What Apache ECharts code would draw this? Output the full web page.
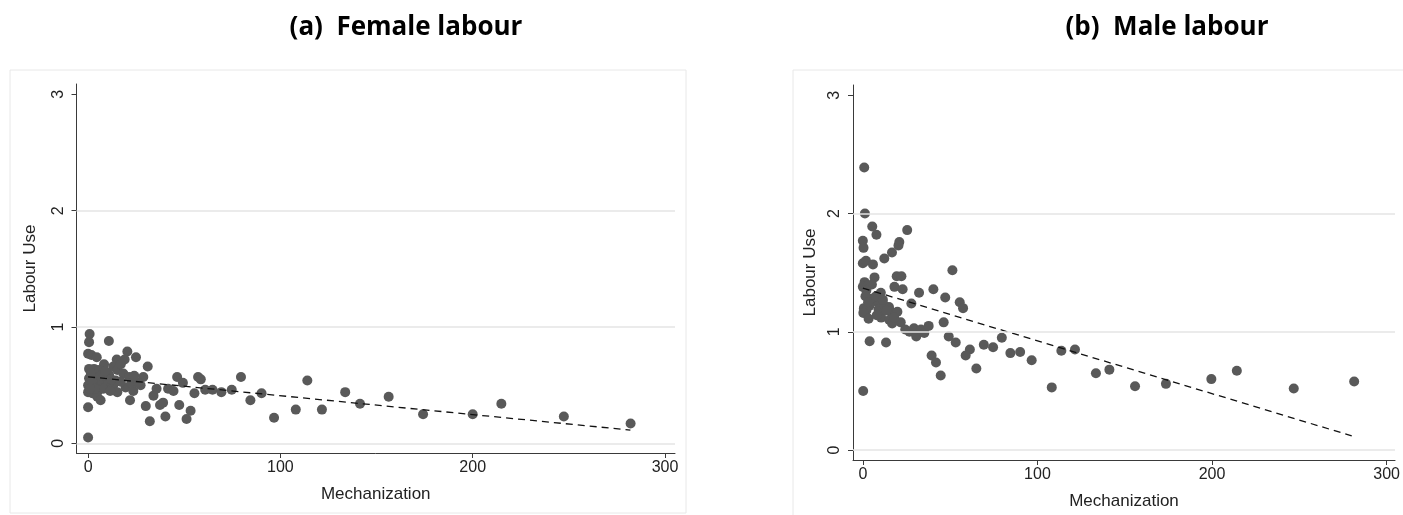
<!DOCTYPE html>
<html><head><meta charset="utf-8">
<script src="https://cdn.jsdelivr.net/npm/echarts@6/dist/echarts.min.js"></script>
<style>html,body{margin:0;padding:0;background:#fff}#c{width:1403px;height:515px}</style>
</head><body><div id="c"></div>
<script>
const panelTitles = ['(a)  Female labour', '(b)  Male labour'];
const xAxisName = 'Mechanization';
const yAxisName = 'Labour Use';
const xTicks = [0, 100, 200, 300];
const yTicks = [0, 1, 2, 3];
const yGridValues = [0, 1, 2];

const femalePoints = [
  [0.8,0.94],[0.5,0.87],[10.8,0.88],[0,0.77],[1.7,0.76],[4.5,0.74],[20.4,0.79],[14.9,0.72],[19,0.72],[24.9,0.74],
  [31,0.66],[8.3,0.68],[0.5,0.64],[3.1,0.64],[5.7,0.63],[13.1,0.66],[15.2,0.63],[0.5,0.56],[3.1,0.57],[10.9,0.59],
  [18.3,0.6],[21.3,0.57],[28.7,0.57],[0,0.5],[2.2,0.49],[4.8,0.52],[7.4,0.53],[10,0.5],[13.1,0.5],[14.3,0.54],
  [19.5,0.48],[27.3,0.5],[0,0.44],[2.2,0.43],[5.7,0.46],[4.8,0.4],[6.5,0.37],[15.2,0.44],[23.5,0.45],[21.8,0.37],
  [0,0.31],[0,0.05],[30,0.32],[32.1,0.19],[1.5,0.6],[6.5,0.58],[9,0.62],[12,0.55],[17,0.53],[2,0.53],
  [8,0.47],[11.5,0.45],[3.5,0.47],[1,0.47],[17,0.68],[22.5,0.52],[26,0.52],[24,0.58],
  [34,0.41],[35.6,0.47],[37.4,0.33],[39,0.35],[40.2,0.23],[41.6,0.47],[44.4,0.45],[46.3,0.57],[47.4,0.33],[49.3,0.52],
  [51.2,0.21],[53.3,0.28],[55.3,0.43],[57.2,0.57],[58.6,0.55],[60.9,0.46],[64.7,0.46],[69.3,0.44],[74.7,0.46],[79.5,0.57],
  [84.4,0.37],[90.2,0.43],[96.7,0.22],[108,0.29],[114,0.54],[121.6,0.29],[133.7,0.44],[141.4,0.34],[156.3,0.4],[174.2,0.25],
  [200,0.25],[214.9,0.34],[247.4,0.23],[282.1,0.17]
];

const malePoints = [
  [0.8,2.39],[1.2,2.0],[5.4,1.89],[7.8,1.82],[25.4,1.86],[0,1.77],[0.4,1.71],[20.9,1.76],[20.4,1.73],[16.7,1.67],
  [12.3,1.62],[0,1.58],[1.8,1.6],[5.8,1.57],[51.3,1.52],[6.7,1.46],[19.4,1.47],[22.1,1.47],[18.1,1.38],[22.8,1.36],
  [1,1.42],[0,1.38],[2.9,1.39],[5.2,1.4],[2,1.35],[10.3,1.33],[32.2,1.33],[40.4,1.36],[47.2,1.29],[55.5,1.25],
  [57.4,1.2],[46.3,1.08],[27.8,1.24],[4.8,1.28],[6.7,1.26],[9.5,1.24],[3.8,1.22],[0.6,1.2],[2,1.18],[0.3,1.16],
  [9,1.19],[12.4,1.22],[15,1.21],[16.2,1.17],[19.8,1.17],[3.3,1.11],[10.5,1.12],[15.2,1.1],[16.8,1.07],[21.7,1.08],
  [24.3,1.02],[26.7,1.0],[29.3,1.03],[30.6,0.96],[33.3,1.02],[35.2,0.99],[37.7,1.05],[3.9,0.92],[13.3,0.91],[49.2,0.96],
  [53.2,0.91],[61.3,0.85],[58.9,0.8],[39.4,0.8],[41.9,0.74],[44.6,0.63],[65,0.69],[69.3,0.89],[74.6,0.87],[79.6,0.95],
  [84.5,0.82],[90.1,0.83],[96.7,0.76],[108.2,0.53],[113.7,0.84],[121.5,0.85],[133.5,0.65],[141.2,0.68],[155.9,0.54],[173.6,0.56],
  [199.6,0.6],[214.2,0.67],[246.8,0.52],[281.4,0.58],[0.2,0.5],
  [1.5,1.3],[3,1.25],[7.5,1.3],[11.5,1.27],[13.5,1.18],[8,1.14],[18,1.12]
];

const femaleFit = [[0, 0.572], [282, 0.114]];
const maleFit = [[0, 1.37], [280, 0.12]];

const FONT = '"Liberation Sans", Arial, sans-serif';
const TXT = '#222';
const AXC = '#3a3a3a';
const DOT = '#595959';

function xAx(gi, min, max) {
  return {
    type: 'value', gridIndex: gi, min: min, max: max,
    name: xAxisName, nameLocation: 'middle', nameGap: 33,
    nameTextStyle: { fontFamily: FONT, fontSize: 17, color: TXT },
    axisLine: { show: true, onZero: false, lineStyle: { color: AXC, width: 1 } },
    axisTick: { show: true, customValues: xTicks, length: 5, lineStyle: { color: AXC } },
    axisLabel: { customValues: xTicks, fontFamily: FONT, fontSize: 16, color: TXT, margin: 7 },
    splitLine: { show: false }
  };
}
function yAx(gi, min, max, gap) {
  return {
    type: 'value', gridIndex: gi, min: min, max: max,
    name: yAxisName, nameLocation: 'middle', nameGap: gap,
    nameTextStyle: { fontFamily: FONT, fontSize: 17, color: TXT },
    axisLine: { show: true, onZero: false, lineStyle: { color: AXC, width: 1 } },
    axisTick: { show: true, customValues: yTicks, length: 5, lineStyle: { color: AXC } },
    axisLabel: { customValues: yTicks, rotate: 90, fontFamily: FONT, fontSize: 16, color: TXT, margin: 10 },
    splitLine: { show: false }
  };
}
function gridLines(i) {
  return {
    type: 'line', xAxisIndex: i, yAxisIndex: i, data: [], silent: true, z: 1,
    markLine: {
      silent: true, symbol: ['none', 'none'], animation: false,
      label: { show: false },
      lineStyle: { color: '#e4e4e4', width: 1.5, type: 'solid' },
      data: yGridValues.map(v => ({ yAxis: v }))
    }
  };
}
function dots(i, pts) {
  return { type: 'scatter', xAxisIndex: i, yAxisIndex: i, data: pts, symbol: 'circle', symbolSize: 10,
    itemStyle: { color: DOT, opacity: 1 }, z: 2 };
}
function fit(i, pts) {
  return { type: 'line', xAxisIndex: i, yAxisIndex: i, data: pts, showSymbol: false, symbol: 'none',
    lineStyle: { color: '#111', width: 1.3, type: [7, 5] }, z: 3 };
}

const chart = echarts.init(document.getElementById('c'), null, { renderer: 'canvas' });
chart.setOption({
  animation: false,
  backgroundColor: '#fff',
  grid: [
    { left: 76.5, top: 84, width: 598.5, height: 369 },
    { left: 853, top: 85, width: 546, height: 377 }
  ],
  xAxis: [xAx(0, -6.03, 305.2), xAx(1, -5.63, 304.8)],
  yAxis: [yAx(0, -0.083, 3.089, 38), yAx(1, -0.084, 3.087, 34)],
  series: [
    gridLines(0), dots(0, femalePoints), fit(0, femaleFit),
    gridLines(1), dots(1, malePoints), fit(1, maleFit)
  ],
  graphic: [
    { type: 'rect', silent: true, z: -1, shape: { x: 10, y: 70, width: 676, height: 443 },
      style: { fill: 'none', stroke: '#e8e8e8', lineWidth: 1 } },
    { type: 'rect', silent: true, z: -1, shape: { x: 793, y: 70, width: 620, height: 470 },
      style: { fill: 'none', stroke: '#e8e8e8', lineWidth: 1 } },
    { type: 'text', x: 406, y: 28, silent: true,
      style: { text: panelTitles[0], fontFamily: '"Open Sans", "Noto Sans", sans-serif', fontWeight: 'bold', fontSize: 26,
        fill: '#000', align: 'center', verticalAlign: 'middle' } },
    { type: 'text', x: 1167, y: 28, silent: true,
      style: { text: panelTitles[1], fontFamily: '"Open Sans", "Noto Sans", sans-serif', fontWeight: 'bold', fontSize: 26,
        fill: '#000', align: 'center', verticalAlign: 'middle' } }
  ]
});
</script>
</body></html>
